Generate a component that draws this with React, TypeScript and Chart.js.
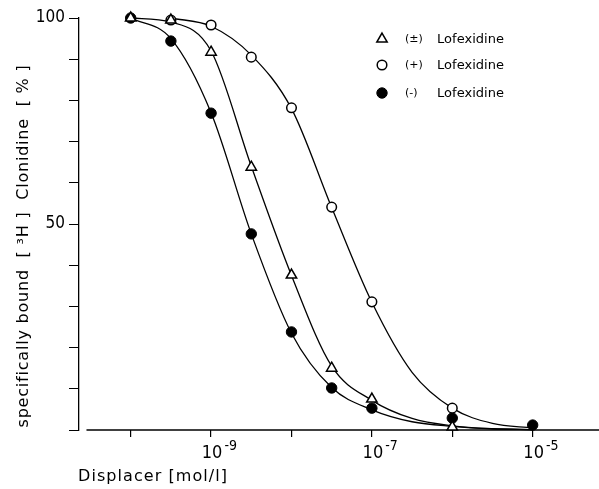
import React, { useEffect, useRef } from 'react';
import { Chart, registerables } from 'chart.js';
import { drawPoint } from 'chart.js/helpers';

Chart.register(...registerables);

// ---- data (x = log10 of displacer concentration, mol/l) ----
const concExp = [-10, -9.5, -9, -8.5, -8, -7.5, -7, -6, -5];
const racemicPts = [100, 99.5, 91.7, 63.8, 37.6, 15.0, 7.5, 0.7, null];
const plusPts = [null, 99.5, 98.3, 90.5, 78.2, 54.1, 31.1, 5.3, null];
const minusPts = [100, 94.4, 76.9, 47.6, 23.8, 10.2, 5.3, 2.9, 1.2];

// fitted curves
const curveExp = [-10, -9.5, -9, -8.5, -8, -7.5, -7, -6.5, -6, -5.5, -5];
const racemicCurve = [100, 99, 92, 64, 37.5, 15.5, 7.2, 2.8, 1.0, 0.3, 0.1];
const plusCurve = [null, 100, 98, 91, 78, 54, 31, 14, 5.3, 1.6, 0.5];
const minusCurve = [100, 95, 77, 47.6, 23.5, 10.3, 4.9, 2.0, 0.9, 0.3, 0.1];

const seriesLabels = ['(±) Lofexidine', '(+) Lofexidine', '(-) Lofexidine'];
const xTickExps = [-10, -9, -8, -7, -6, -5];
const xLabelExps = [-9, -7, -5];
const yLabelValues = [50, 100];
const xTitle = 'Displacer [mol/l]';
const yTitle = 'specifically bound  [ ³H ]  Clonidine  [ % ]';

const X_MIN = -10.643;
const X_MAX = -4.175;
const X_AXIS_START = -10.55;

const NARROW = '"Liberation Sans Narrow", "DejaVu Sans Condensed", "DejaVu Sans", sans-serif';
const SANS = '"DejaVu Sans", "Liberation Sans", sans-serif';

const pts = (ys: (number | null)[], xs: number[]) =>
  xs.map((x, i) => ({ x, y: ys[i] }));

const markerStyles = [
  { pointStyle: 'triangle', pointRadius: 6, pointBackgroundColor: '#fff', pointBorderColor: '#000', pointBorderWidth: 1.5 },
  { pointStyle: 'circle', pointRadius: 4.8, pointBackgroundColor: '#fff', pointBorderColor: '#000', pointBorderWidth: 1.5 },
  { pointStyle: 'circle', pointRadius: 5.2, pointBackgroundColor: '#000', pointBorderColor: '#000', pointBorderWidth: 1 },
];

function fitText(ctx: CanvasRenderingContext2D, text: string, target: number) {
  (ctx as any).letterSpacing = '0px';
  const w = ctx.measureText(text).width;
  const n = Math.max(1, text.length - 1);
  const ls = (target - w) / n;
  (ctx as any).letterSpacing = `${ls.toFixed(2)}px`;
}

const overlay = {
  id: 'overlay',
  beforeDatasetsDraw(chart: any) {
    const { ctx, chartArea, scales } = chart;
    ctx.save();
    ctx.strokeStyle = '#000';
    ctx.lineWidth = 1.3;
    ctx.beginPath();
    ctx.moveTo(scales.x.getPixelForValue(X_AXIS_START), chartArea.bottom);
    ctx.lineTo(chartArea.right, chartArea.bottom);
    ctx.stroke();
    ctx.restore();
  },
  afterDraw(chart: any) {
    const { ctx, chartArea, scales } = chart;
    const xs = scales.x;
    ctx.save();
    ctx.fillStyle = '#000';
    // x tick labels: 10 with exponent
    xLabelExps.forEach((e) => {
      const px = xs.getPixelForValue(e);
      ctx.font = `18px ${NARROW}`;
      ctx.textAlign = 'center';
      ctx.textBaseline = 'alphabetic';
      const w = ctx.measureText('10').width;
      ctx.fillText('10', px + 1, chartArea.bottom + 28);
      ctx.font = `14px ${NARROW}`;
      ctx.textAlign = 'left';
      ctx.fillText(`-${Math.abs(e)}`, px + 1 + w / 2 + 2, chartArea.bottom + 20);
    });
    // x title
    ctx.font = `16px ${SANS}`;
    ctx.textAlign = 'left';
    ctx.textBaseline = 'alphabetic';
    fitText(ctx, xTitle, 149);
    ctx.fillText(xTitle, chartArea.left - 1, chartArea.bottom + 51);
    // y title
    ctx.save();
    ctx.translate(24, 246);
    ctx.rotate(-Math.PI / 2);
    ctx.font = `16px ${SANS}`;
    ctx.textAlign = 'center';
    ctx.textBaseline = 'middle';
    fitText(ctx, yTitle, 362);
    ctx.fillText(yTitle, 0, 0);
    ctx.restore();
    (ctx as any).letterSpacing = '0px';
    // legend
    const rowsY = [39, 65, 93];
    seriesLabels.forEach((label, i) => {
      const y = rowsY[i];
      const mx = 382;
      const st = markerStyles[i];
      ctx.fillStyle = st.pointBackgroundColor;
      ctx.strokeStyle = st.pointBorderColor;
      ctx.lineWidth = st.pointBorderWidth;
      drawPoint(ctx, { pointStyle: st.pointStyle as any, radius: st.pointRadius, rotation: 0, borderWidth: st.pointBorderWidth }, mx, y);
      const sp = label.indexOf(' ');
      const prefix = label.slice(0, sp);
      const name = label.slice(sp + 1);
      ctx.fillStyle = '#000';
      ctx.textAlign = 'left';
      ctx.textBaseline = 'middle';
      ctx.font = `11px ${SANS}`;
      (ctx as any).letterSpacing = '0px';
      ctx.fillText(prefix, mx + 23, y);
      ctx.font = `13px ${SANS}`;
      fitText(ctx, name, 67);
      ctx.fillText(name, mx + 55, y + 1);
      (ctx as any).letterSpacing = '0px';
    });
    ctx.restore();
  },
};

export default function App() {
  const ref = useRef<HTMLCanvasElement>(null);
  useEffect(() => {
    document.body.style.margin = '0';
    const canvas = ref.current;
    if (!canvas) return;
    const lineDs = (data: any) => ({
      type: 'line' as const,
      data,
      showLine: true,
      borderColor: '#000',
      borderWidth: 1.3,
      pointRadius: 0,
      cubicInterpolationMode: 'monotone' as const,
      fill: false,
      clip: false as any,
      spanGaps: false,
    });
    const markDs = (label: string, data: any, st: any) => ({
      type: 'line' as const,
      label,
      data,
      showLine: false,
      ...st,
      clip: false as any,
    });
    const chart = new Chart(canvas, {
      type: 'line',
      data: {
        datasets: [
          markDs(seriesLabels[0], pts(racemicPts, concExp), markerStyles[0]),
          markDs(seriesLabels[1], pts(plusPts, concExp), markerStyles[1]),
          markDs(seriesLabels[2], pts(minusPts, concExp), markerStyles[2]),
          lineDs(pts(racemicCurve, curveExp)),
          lineDs(pts(plusCurve, curveExp)),
          lineDs(pts(minusCurve, curveExp)),
        ] as any,
      },
      options: {
        responsive: false,
        animation: false,
        layout: { autoPadding: false, padding: { top: 18, right: 0, left: 0, bottom: 0 } },
        plugins: { legend: { display: false }, tooltip: { enabled: false } },
        scales: {
          x: {
            type: 'linear',
            min: X_MIN,
            max: X_MAX,
            afterFit: (s: any) => { s.height = 59; s.paddingLeft = 0; s.paddingRight = 0; },
            afterBuildTicks: (s: any) => { s.ticks = xTickExps.map((v) => ({ value: v })); },
            ticks: { display: false, padding: 0 },
            grid: { display: true, drawOnChartArea: false, drawTicks: true, tickLength: 7, color: '#000', lineWidth: 1.2 },
            border: { display: false },
          },
          y: {
            type: 'linear',
            min: 0,
            max: 100,
            afterFit: (s: any) => { s.width = 79; },
            ticks: {
              stepSize: 10,
              padding: 4,
              color: '#000',
              font: { family: NARROW, size: 17 },
              callback: (v: any) => (yLabelValues.includes(Number(v)) ? String(v) : ''),
            },
            grid: { display: true, drawOnChartArea: false, drawTicks: true, tickLength: 10, color: '#000', lineWidth: 1 },
            border: { display: true, color: '#000', width: 1.3 },
          },
        },
      },
      plugins: [overlay as any],
    });
    return () => chart.destroy();
  }, []);
  return (
    <div style={{ width: 599, height: 489, background: '#fff' }}>
      <canvas ref={ref} width={599} height={489} />
    </div>
  );
}
